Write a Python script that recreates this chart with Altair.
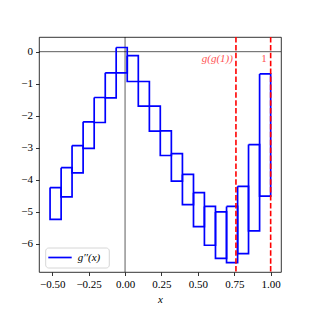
import altair as alt
import pandas as pd

# box edges along x
edges = [-0.515, -0.439, -0.364, -0.288, -0.212, -0.136, -0.061, 0.015, 0.091,
         0.167, 0.242, 0.318, 0.394, 0.470, 0.545, 0.621, 0.697, 0.773, 0.848,
         0.924, 1.0]
# upper and lower bound of g''(x) on each interval
tops = [-4.24, -3.62, -2.93, -2.19, -1.43, -0.66, 0.13, -0.125, -0.93, -1.70,
        -2.47, -3.18, -3.83, -4.40, -4.83, -5.00, -4.83, -4.20, -2.90, -0.695]
bottoms = [-5.23, -4.53, -3.78, -3.02, -2.21, -1.44, -0.66, -0.93, -1.70, -2.48,
           -3.24, -4.04, -4.77, -5.46, -6.04, -6.45, -6.58, -6.30, -5.59, -4.51]
series_name = "g\u2032\u2032(x)"

vline_x = [0.7616, 1.0]
vline_labels = ["g(g(1))", "1"]

x_ticks = [-0.5, -0.25, 0.0, 0.25, 0.5, 0.75, 1.0]
y_ticks = [0, -1, -2, -3, -4, -5, -6]

rows = []
for i in range(len(tops)):
    l, r = edges[i], edges[i + 1]
    pts = [(l, tops[i]), (r, tops[i]), (r, bottoms[i]), (l, bottoms[i]), (l, tops[i])]
    for k, (x, y) in enumerate(pts):
        rows.append({"box": i, "k": k, "x": x, "y": y, "series": series_name})
df = pd.DataFrame(rows)

FONT = "Liberation Serif"
xs = alt.Scale(domain=[-0.591, 1.071], nice=False, zero=False)
ys = alt.Scale(domain=[-6.875, 0.458], nice=False, zero=False)

xaxis = alt.Axis(values=x_ticks, format=".2f", title="x", grid=False,
                 titleFontStyle="italic", titleFontWeight="normal")
yaxis = alt.Axis(values=y_ticks, format="d", title=None, grid=False)

X = alt.X("x:Q", scale=xs, axis=xaxis)
Y = alt.Y("y:Q", scale=ys, axis=yaxis)

zero_v = alt.Chart(pd.DataFrame({"x": [0.0]})).mark_rule(
    color="black", strokeWidth=0.8, opacity=0.8).encode(x=X)
zero_h = alt.Chart(pd.DataFrame({"y": [0.0]})).mark_rule(
    color="black", strokeWidth=0.8, opacity=0.8).encode(y=Y)

boxes = alt.Chart(df).mark_line(strokeWidth=1.7, strokeJoin="miter",
                                color="#0000ff").encode(
    x=X, y=Y,
    detail="box:N",
    order="k:Q",
)

vdf = pd.DataFrame({"x": vline_x, "label": vline_labels})
vlines = alt.Chart(vdf).mark_rule(color="red", strokeWidth=1.6,
                                  strokeDash=[5.5, 2.4]).encode(x=X)
vtext_it = alt.Chart(vdf).transform_filter(alt.datum.label != "1").mark_text(
    color="red", opacity=0.7, align="right", baseline="middle", dx=-3, font=FONT,
    fontStyle="italic", fontSize=11).encode(x=X, y=alt.value(22), text="label:N")
vtext_up = alt.Chart(vdf).transform_filter(alt.datum.label == "1").mark_text(
    color="red", opacity=0.7, align="right", baseline="middle", dx=-4, font=FONT,
    fontSize=11).encode(x=X, y=alt.value(22), text="label:N")

# legend drawn by hand (matplotlib style box)
leg = pd.DataFrame({"series": [series_name]})
leg_box = alt.Chart(leg).mark_rect(fill="white", fillOpacity=0.8, stroke="#cccccc",
                                   strokeWidth=0.8, cornerRadius=3).encode(
    x=alt.value(6.7), x2=alt.value(70.3), y=alt.value(211), y2=alt.value(231))
leg_line = alt.Chart(leg).mark_rule(color="#0000ff", strokeWidth=1.7).encode(
    x=alt.value(9.3), x2=alt.value(32.7), y=alt.value(220.5))
leg_text = alt.Chart(leg).mark_text(align="left", baseline="middle", font=FONT,
                                    fontStyle="italic", fontSize=11,
                                    color="black").encode(
    x=alt.value(38.7), y=alt.value(220.5), text="series:N")

chart = alt.layer(zero_v, zero_h, boxes, vlines, vtext_it, vtext_up,
                  leg_box, leg_line, leg_text).properties(
    width=242, height=235,
    autosize=alt.AutoSizeParams(type="none"),
    padding={"left": 31, "top": 29, "right": 24, "bottom": 33},
).configure_view(
    stroke="black", strokeWidth=0.8
).configure_axis(
    domain=False, tickColor="black", tickSize=3.5, tickWidth=0.8,
    labelFont=FONT, labelFontSize=11, labelColor="black", labelPadding=3,
    titleFont=FONT, titleFontSize=11, titleColor="black", titlePadding=4,
)

chart.save("out.html", embed_options={"renderer": "svg", "actions": False})
